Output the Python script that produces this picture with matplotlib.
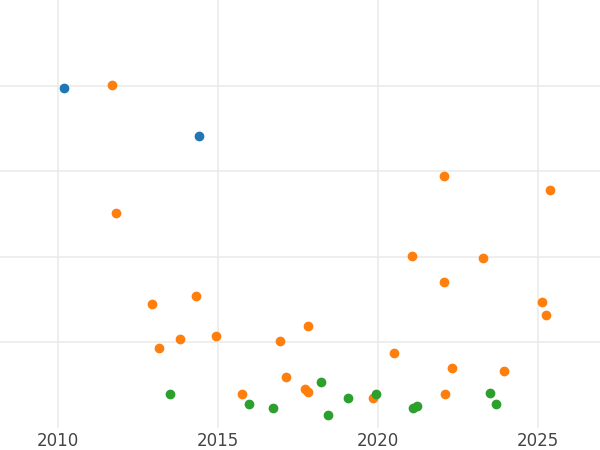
import matplotlib.pyplot as plt

blue_x = [2010.19, 2014.41]
blue_y = [3.97, 3.41]

orange_x = [2011.69, 2011.81, 2012.94, 2013.16, 2013.81, 2014.31, 2014.94, 2015.75,
            2016.94, 2017.13, 2017.72, 2017.81, 2017.81, 2019.84, 2020.5, 2021.06,
            2022.06, 2022.06, 2022.09, 2022.31, 2023.28, 2023.94, 2025.13, 2025.25, 2025.38]
orange_y = [4.01, 2.51, 1.44, 0.93, 1.04, 1.54, 1.07, 0.39,
            1.01, 0.59, 0.45, 0.42, 1.19, 0.35, 0.87, 2.01,
            2.94, 1.70, 0.39, 0.70, 1.98, 0.66, 1.47, 1.32, 2.78]

green_x = [2013.5, 2015.97, 2016.72, 2018.22, 2018.44, 2019.06, 2019.94,
           2021.09, 2021.22, 2023.5, 2023.69]
green_y = [0.39, 0.27, 0.23, 0.53, 0.15, 0.35, 0.39, 0.23, 0.25, 0.40, 0.27]

fig = plt.figure(figsize=(6, 4.5), dpi=100)
ax = fig.add_axes([0, 0.05, 1, 0.95])
ax.scatter(blue_x, blue_y, s=36, c='#1f77b4', zorder=3)
ax.scatter(orange_x, orange_y, s=36, c='#ff7f0e', zorder=3)
ax.scatter(green_x, green_y, s=36, c='#2ca02c', zorder=3)

ax.set_xlim(2008.19, 2026.94)
ax.set_ylim(0, 5)
ax.set_xticks([2010, 2015, 2020, 2025])
ax.set_yticks([1, 2, 3, 4])
ax.set_yticklabels([])
ax.grid(True, color='#ebebeb', linewidth=1.2)
ax.set_axisbelow(True)
for s in ax.spines.values():
    s.set_visible(False)
ax.tick_params(axis='both', length=0, labelsize=12, labelcolor='#444444')
ax.tick_params(axis='x', pad=3)
fig.savefig('out.png')
